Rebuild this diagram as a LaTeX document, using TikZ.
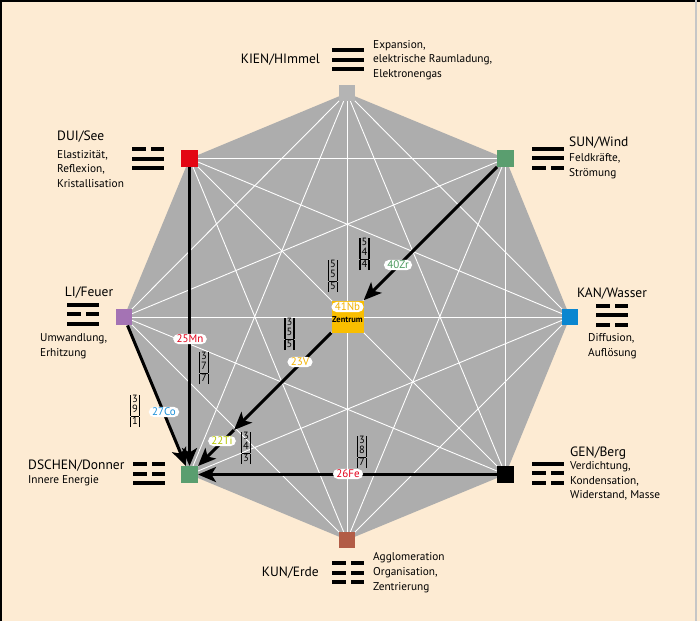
\documentclass[tikz,border=0pt]{standalone}
\usepackage{fontspec}
\setmainfont{PT Sans}
\usetikzlibrary{arrows.meta}
\definecolor{peach}{HTML}{FDEBD3}
\definecolor{octgray}{HTML}{ADADAD}
\definecolor{kiengray}{HTML}{B4B4B4}
\definecolor{duired}{HTML}{E30613}
\definecolor{sungreen}{HTML}{5A9E6F}
\definecolor{lipurple}{HTML}{A473B4}
\definecolor{kanblue}{HTML}{0A86D0}
\definecolor{kunbrown}{HTML}{B25C46}
\definecolor{ctryellow}{HTML}{F9BE00}
\definecolor{zrgreen}{HTML}{4C9A5E}
\definecolor{nbyellow}{HTML}{F2B200}
\definecolor{tigreen}{HTML}{B5C600}
\definecolor{mnred}{HTML}{E2001A}
\definecolor{coblue}{HTML}{1B8FD8}
\newcommand\trip[3]{{\fontsize{10.5}{10.5}\selectfont\setlength\arrayrulewidth{1.1pt}\setlength\tabcolsep{1.6pt}\renewcommand\arraystretch{0.95}\begin{tabular}{|c|}#1\\#2\\\hline #3\end{tabular}}}
\newcommand\trbar[2]{\ifnum#2=1 \fill (-16,#1-2) rectangle (16,#1+2);\else\fill (-16,#1-2) rectangle (-2.5,#1+2);\fill (2.5,#1-2) rectangle (16,#1+2);\fi}
\newcommand\trigram[4]{\begin{scope}[shift={#1}]\trbar{-9.5}{#2}\trbar{0}{#3}\trbar{9.5}{#4}\end{scope}}
\begin{document}
\begin{tikzpicture}[x=1pt,y=-1pt,
  sq/.style={minimum size=16.5pt, inner sep=0pt},
  chord/.style={white, line width=0.9pt},
  arr/.style={line width=3pt, -{Stealth[length=18pt,width=15pt,inset=4.5pt]}},
  pill/.style={fill=white, rounded corners=5.5pt, inner xsep=3.5pt, inner ysep=1.2pt, font=\fontsize{11}{12}\selectfont},
  ttl/.style={font=\fontsize{13.5}{15}\selectfont, inner sep=0pt},
  dsc/.style={font=\fontsize{11.3}{14.8}\selectfont, align=left, inner sep=0pt},
  fr/.style={inner sep=0pt}]
\useasboundingbox (0,0) rectangle (700,621);
\fill[peach] (0,0) rectangle (700,621);
\draw[black, line width=1.5pt] (0.75,621) -- (0.75,0.75) -- (700,0.75);
\draw[gray!45, line width=1.5pt] (696,0) -- (696,621);
% octagon vertices
\coordinate (v1) at (347,93);
\coordinate (v2) at (505.5,158.5);
\coordinate (v3) at (570,317);
\coordinate (v4) at (505.5,474.5);
\coordinate (v5) at (347,540);
\coordinate (v6) at (189.5,474.5);
\coordinate (v7) at (124,317);
\coordinate (v8) at (189.5,158.5);
\fill[octgray] (v1) -- (v2) -- (v3) -- (v4) -- (v5) -- (v6) -- (v7) -- (v8) -- cycle;
\foreach \i in {1,...,8}{
  \foreach \j in {\i,...,8}{
    \pgfmathtruncatemacro\d{\j-\i}
    \ifnum\d>1 \ifnum\d<7 \draw[chord] (v\i) -- (v\j); \fi\fi
  }
}
% squares
\node[sq, fill=kiengray] (kien) at (v1) {};
\node[sq, fill=sungreen] (sun) at (v2) {};
\node[sq, fill=kanblue] (kan) at (v3) {};
\node[sq, fill=black] (gen) at (v4) {};
\node[sq, fill=kunbrown] (kun) at (v5) {};
\node[sq, fill=sungreen] (dschen) at (v6) {};
\node[sq, fill=lipurple] (li) at (v7) {};
\node[sq, fill=duired] (dui) at (v8) {};
\node[sq, fill=ctryellow, minimum size=32pt] (ctr) at (347.5,316.5) {};
% arrows
\coordinate (p1) at (234,430);
\draw[arr] (sun) -- (ctr);
\draw[arr] (ctr) -- (p1);
\draw[arr] (p1) -- (dschen);
\draw[arr] (dui) -- (dschen);
\draw[arr] (li) -- (dschen);
\draw[arr] (gen) -- (dschen);
% element labels
\node[pill, text=zrgreen] (l40) at (398,265) {40Zr};
\node[pill, text=nbyellow] (l41) at (347.5,307) {41Nb};
\node[font=\bfseries\fontsize{8.5}{9}\selectfont, inner sep=0pt] (zen) at (347.5,319.5) {Zentrum};
\node[pill, text=nbyellow] (l23) at (300,362) {23V};
\node[pill, text=tigreen] (l22) at (222,441) {22Ti};
\node[pill, text=mnred] (l25) at (190,339) {25Mn};
\node[pill, text=coblue] (l27) at (164,412) {27Co};
\node[pill, text=mnred] (l26) at (348,474) {26Fe};
% fractions
\node[fr] (f544) at (364.5,254) {\trip{5}{4}{4}};
\node[fr] (f555) at (333,276) {\trip{5}{5}{5}};
\node[fr] (f355) at (289.5,334) {\trip{3}{5}{5}};
\node[fr] (f377) at (204,368) {\trip{3}{7}{7}};
\node[fr] (f391) at (135,411) {\trip{3}{9}{1}};
\node[fr] (f343) at (246,448) {\trip{3}{4}{3}};
\node[fr] (f387) at (362,452) {\trip{3}{8}{7}};
% trigrams
\trigram{(348,59.5)}{1}{1}{1}
\trigram{(148,158.5)}{0}{1}{1}
\trigram{(548,158)}{1}{1}{0}
\trigram{(83,314)}{1}{0}{1}
\trigram{(612,315)}{0}{1}{0}
\trigram{(149,473.5)}{0}{0}{1}
\trigram{(548,473)}{1}{0}{0}
\trigram{(348,572.5)}{0}{0}{0}
% texts
\node[ttl, anchor=east] (tkien) at (320,60) {KIEN/HImmel};
\node[dsc, anchor=west] (dkien) at (373,60) {Expansion,\\elektrische Raumladung,\\Elektronengas};
\node[ttl, anchor=west] (tdui) at (57,137) {DUI/See};
\node[dsc, anchor=west] (ddui) at (57,169) {Elastizität,\\Reflexion,\\Kristallisation};
\node[ttl, anchor=west] (tsun) at (569,143) {SUN/Wind};
\node[dsc, anchor=west] (dsun) at (569,166.5) {Feldkräfte,\\Strömung};
\node[ttl] (tli) at (89,293) {LI/Feuer};
\node[dsc, anchor=west] (dli) at (40,346.5) {Umwandlung,\\Erhitzung};
\node[ttl] (tkan) at (612,294) {KAN/Wasser};
\node[dsc, anchor=west] (dkan) at (588,346.5) {Diffusion,\\Auflösung};
\node[ttl, anchor=west] (tdsc) at (28,466) {DSCHEN/Donner};
\node[dsc, anchor=west] (ddsc) at (28,481) {Innere Energie};
\node[ttl, anchor=west] (tgen) at (570,453) {GEN/Berg};
\node[dsc, anchor=west] (dgen) at (570,481) {Verdichtung,\\Kondensation,\\Widerstand, Masse};
\node[ttl, anchor=east] (tkun) at (319,573) {KUN/Erde};
\node[dsc, anchor=west] (dkun) at (373,572.5) {Agglomeration\\Organisation,\\Zentrierung};
\end{tikzpicture}
\end{document}
